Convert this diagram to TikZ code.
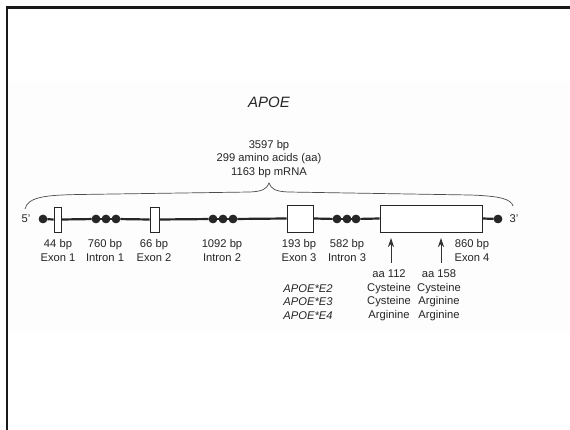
\documentclass[tikz,border=0pt]{standalone}
\usepackage{fontspec}
\setmainfont{Liberation Sans}
\usetikzlibrary{arrows.meta}
\definecolor{txt}{HTML}{262626}
\definecolor{band}{HTML}{FDFDFD}
\tikzset{
  lbl/.style={text=txt, font=\fontsize{11.2}{13.5}\selectfont, align=center, inner sep=0pt},
  ital/.style={lbl, font=\fontsize{11.2}{13.8}\selectfont\itshape},
  exonbox/.style={draw=black!85, line width=0.9pt, fill=white, rectangle, inner sep=0pt},
  dot/.style={circle, fill=black!85, inner sep=0pt, minimum size=8.5pt},
  backbone/.style={line width=2.2pt, draw=black!85},
  pointer/.style={line width=0.8pt, draw=black!80, -{Stealth[length=9pt,width=6pt]}},
  brace/.style={line width=0.7pt, draw=black!70}
}
\begin{document}
\begin{tikzpicture}[x=1pt,y=-1pt]
\useasboundingbox (0,0) rectangle (570,430);
\fill[band] (8,81) rectangle (570,333);
\draw[line width=2.5pt, black!90] (7,430) -- (7,7.5) -- (570,7.5);

% title
\node[lbl, font=\fontsize{15}{18}\selectfont\itshape] (title) at (269,102) {APOE};
\node[lbl] (info) at (269,159) {3597 bp\\299 amino acids (aa)\\1163 bp mRNA};

% brace
\draw[brace] (25,209) .. controls (28,197) and (45,195) .. (80,194.5) -- (250,192)
  .. controls (262,191.5) and (267,189) .. (269,183)
  .. controls (271,189) and (276,191.5) .. (288,192) -- (470,195)
  .. controls (500,196) and (511,199) .. (513,206);

% gene backbone nodes
\node[lbl] (p5) at (26,219) {5'};
\node[lbl] (p3) at (514,219) {3'};
\node[dot] (dL) at (43,219) {};
\node[exonbox, minimum width=7pt, minimum height=25pt] (e1) at (57.5,219.5) {};
\node[dot] (i1a) at (96,219) {};
\node[dot] (i1b) at (106,219) {};
\node[dot] (i1c) at (116,219) {};
\node[exonbox, minimum width=9pt, minimum height=25pt] (e2) at (154.5,219.5) {};
\node[dot] (i2a) at (213,219) {};
\node[dot] (i2b) at (223,219) {};
\node[dot] (i2c) at (233,219) {};
\node[exonbox, minimum width=26pt, minimum height=27pt] (e3) at (300,218.5) {};
\node[dot] (i3a) at (337,219) {};
\node[dot] (i3b) at (347,219) {};
\node[dot] (i3c) at (356,219) {};
\node[exonbox, minimum width=102pt, minimum height=27pt] (e4) at (431,218.5) {};
\node[dot] (dR) at (498,219) {};

\draw[backbone] (dL) -- (e1.west);
\draw[backbone] (e1.east) -- (i1a);
\draw[backbone] (i1a) -- (i1c);
\draw[backbone] (i1c) -- (e2.west);
\draw[backbone] (e2.east) -- (i2a);
\draw[backbone] (i2a) -- (i2c);
\draw[backbone] (i2c) -- (e3.west);
\draw[backbone] (e3.east) -- (i3a);
\draw[backbone] (i3a) -- (i3c);
\draw[backbone] (i3c) -- (e4.west);
\draw[backbone] (e4.east) -- (dR);
% redraw dots on top of the line
\node[dot] at (dL) {};
\node[dot] at (i1a) {};\node[dot] at (i1b) {};\node[dot] at (i1c) {};
\node[dot] at (i2a) {};\node[dot] at (i2b) {};\node[dot] at (i2c) {};
\node[dot] at (i3a) {};\node[dot] at (i3b) {};\node[dot] at (i3c) {};
\node[dot] at (dR) {};

% segment labels
\node[lbl] (l1) at (58,250.5) {44 bp\\Exon 1};
\node[lbl] (l2) at (105,250.5) {760 bp\\Intron 1};
\node[lbl] (l3) at (154,250.5) {66 bp\\Exon 2};
\node[lbl] (l4) at (222,250.5) {1092 bp\\Intron 2};
\node[lbl] (l5) at (299,250.5) {193 bp\\Exon 3};
\node[lbl] (l6) at (347,250.5) {582 bp\\Intron 3};
\node[lbl] (l7) at (472,250.5) {860 bp\\Exon 4};

% arrows
\coordinate (a1s) at (391,263);
\coordinate (a1e) at (391,238);
\coordinate (a2s) at (441,263);
\coordinate (a2e) at (441,238);
\draw[pointer] (a1s) -- (a1e);
\draw[pointer] (a2s) -- (a2e);

% alleles
\node[ital] (alle) at (308,302) {APOE*E2\\APOE*E3\\APOE*E4};
\node[lbl] (c1) at (389,295.5) {aa 112\\Cysteine\\Cysteine\\Arginine};
\node[lbl] (c2) at (439,295.5) {aa 158\\Cysteine\\Arginine\\Arginine};
\end{tikzpicture}
\end{document}
